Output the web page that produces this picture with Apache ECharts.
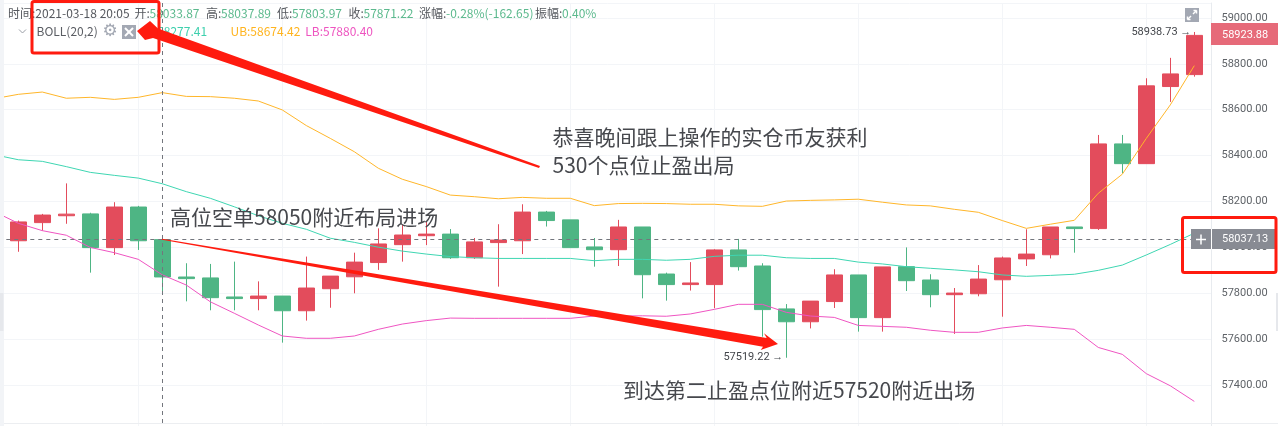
<!DOCTYPE html>
<html>
<head>
<meta charset="utf-8">
<style>
html, body { margin: 0; padding: 0; background: #fff; }
#chart { width: 1278px; height: 426px; }
</style>
<script src="https://cdn.jsdelivr.net/npm/echarts@6/dist/echarts.min.js"></script>
</head>
<body>
<div id="chart"></div>
<script>
// k线数据,第一根是 20:05 前 6 根,从图上读的
var opens = [58029, 58108, 58138, 58146, 57999, 58176, 58033.87, 57871, 57867, 57784, 57777, 57788, 57724, 57820, 57872, 57934, 58012, 58051, 58058, 57955, 58021, 58029, 58154, 58120, 58002, 57990, 58089, 57884, 57838, 57838, 57989, 57919, 57732, 57676, 57764, 57880, 57694, 57916, 57858, 57794, 57798, 57859, 57950, 57968, 58089, 58082, 58451, 58365, 58701, 58753];
var closes = [58111, 58141, 58145, 57999, 58176, 58029, 57871.22, 57864, 57781, 57777, 57788, 57724, 57823, 57875, 57936, 58015, 58054, 58058, 57955, 58024, 58032, 58154, 58117, 57999, 57990, 58089, 57881, 57838, 57845, 57989, 57916, 57729, 57676, 57766, 57880, 57694, 57915, 57855, 57794, 57801, 57862, 57954, 57971, 58089, 58082, 58451, 58365, 58704, 58756, 58923.88];
var lows = [57981, 58073, 58103, 57890, 57967, 57989, 57803.97, 57765, 57726, 57726, 57726, 57585, 57681, 57737, 57800, 57902, 57938, 58010, 57950, 57950, 57829, 57971, 58091, 57999, 57916, 57919, 57778, 57768, 57812, 57735, 57899, 57611, 57519.22, 57647, 57736, 57633, 57633, 57810, 57739, 57623, 57787, 57698, 57919, 57952, 57977, 58076, 58323, 58365, 58634, 58744];
var highs = [58117, 58146, 58279, 58151, 58197, 58181, 58037.89, 57931, 57928, 57938, 57852, 57788, 57960, 57875, 57977, 58083, 58098, 58112, 58080, 58041, 58101, 58188, 58159, 58120, 58041, 58120, 58089, 57890, 57936, 57992, 58037, 57931, 57753, 57766, 57905, 57880, 57915, 58000, 57883, 57823, 57923, 57960, 58079, 58089, 58089, 58490, 58490, 58737, 58826, 58938.73];

// BOLL 三条线,比 k 线多一个点(左边画面外那根)
var upperBand = [58648, 58667, 58677, 58650, 58654, 58645, 58654, 58674.42, 58658, 58657, 58650, 58638, 58599, 58531, 58475, 58417, 58345, 58297, 58265, 58228, 58221, 58212, 58218, 58214, 58214, 58182, 58191, 58192, 58191, 58188, 58188, 58181, 58179, 58202, 58205, 58207, 58210, 58197, 58185, 58181, 58166, 58153, 58117, 58083, 58101, 58118, 58236, 58319, 58475, 58621, 58792];
var midBand = [58404, 58382, 58375, 58352, 58327, 58314, 58302, 58277.41, 58243, 58214, 58177, 58138, 58105, 58079, 58040, 58022, 58001, 57984, 57971, 57960, 57955, 57952, 57952, 57952, 57952, 57942, 57948, 57948, 57944, 57948, 57961, 57966, 57966, 57955, 57952, 57952, 57936, 57928, 57916, 57909, 57902, 57894, 57880, 57874, 57878, 57883, 57900, 57923, 57967, 58013, 58062];
var lowerBand = [58156, 58105, 58073, 58053, 58000, 57977, 57948, 57880.4, 57836, 57763, 57713, 57662, 57614, 57604, 57604, 57614, 57643, 57666, 57681, 57692, 57691, 57691, 57691, 57691, 57691, 57701, 57701, 57702, 57700, 57710, 57730, 57752, 57752, 57717, 57701, 57695, 57660, 57656, 57652, 57639, 57630, 57630, 57649, 57660, 57652, 57643, 57564, 57534, 57450, 57397, 57329];

var crossPrice = 58037.13;
var lastPrice = 58923.88;
var crossIndex = 7;

var headerItems = [
    { label: '开:', value: '58033.87', x: 134.5 },
    { label: '高:', value: '58037.89', x: 206 },
    { label: '低:', value: '57803.97', x: 277 },
    { label: '收:', value: '57871.22', x: 348.5 },
    { label: '涨幅:', value: '-0.28%(-162.65)', x: 419 },
    { label: '振幅:', value: '0.40%', x: 535 }
];

var red = '#e34c5c';
var green = '#4eb584';
var arrowRed = '#ff1b0f';
var font = '"Noto Sans CJK SC", sans-serif';

var categories = [];
var candles = ['-'];
categories.push('');
for (var i = 0; i < opens.length; i++) {
    categories.push(String(i));
    candles.push([opens[i], closes[i], lows[i], highs[i]]);
}

function band(name, data, color) {
    return {
        name: name,
        type: 'line',
        xAxisIndex: 0,
        yAxisIndex: 0,
        data: data,
        symbol: 'none',
        silent: true,
        z: 3,
        lineStyle: { color: color, width: 1 }
    };
}

function text(x, y, str, size, color, family) {
    return {
        type: 'text',
        z: 100,
        x: x,
        y: y,
        silent: true,
        style: {
            text: str,
            fill: color,
            font: size + 'px ' + (family || font),
            textVerticalAlign: 'middle'
        }
    };
}

function poly(points, color) {
    return {
        type: 'polygon',
        z: 105,
        silent: true,
        shape: { points: points },
        style: { fill: color }
    };
}

function line(x1, y1, x2, y2, color, width) {
    return {
        type: 'line',
        z: 100,
        silent: true,
        shape: { x1: x1, y1: y1, x2: x2, y2: y2 },
        style: { stroke: color, lineWidth: width || 1 }
    };
}

function box(x, y, w, h, color, r) {
    return {
        type: 'rect',
        z: 95,
        silent: true,
        shape: { x: x, y: y, width: w, height: h, r: r || 0 },
        style: { fill: color }
    };
}

function frame(x, y, w, h) {
    return {
        type: 'rect',
        z: 110,
        silent: true,
        shape: { x: x, y: y, width: w, height: h, r: 2 },
        style: { fill: 'none', stroke: arrowRed, lineWidth: 3 }
    };
}

var graphics = [
    // 左右两边的浅色条
    box(0, 0, 4, 426, '#f2f4f7'),
    box(0, 293, 3.5, 38, '#e6e8ec'),
    box(1276, 293, 2, 38, '#e6e8ec'),
    line(4, 423.5, 1278, 423.5, '#eceef1'),

    // 红色箭头
    poly([[540, 166], [158, 28.5], [150, 21], [137, 31], [145, 40], [153, 38], [539, 168]], arrowRed),
    poly([[162, 238.8], [766.7, 338], [764, 333.3], [778, 344], [760.7, 350], [763, 346.7], [162, 239.8]], arrowRed),

    // 价格标签
    box(1211, 23, 67, 22, '#e66a79'),
    text(1222, 35, lastPrice.toFixed(2), 11, '#fff', 'Roboto, sans-serif'),
    box(1191, 229, 85, 20, '#888b93'),
    line(1211.5, 229, 1211.5, 249, '#fff'),
    line(1196, 239.5, 1206, 239.5, '#fff', 1.5),
    line(1201, 234.5, 1201, 244.5, '#fff', 1.5),
    text(1222, 239.5, crossPrice.toFixed(2), 11, '#fff', 'Roboto, sans-serif'),

    // 右上角全屏按钮
    box(1185, 8, 14, 14, '#a3a8b3'),
    line(1187.5, 19.5, 1191, 16, '#fff', 1.5),
    line(1187.5, 16.5, 1187.5, 19.5, '#fff', 1.5),
    line(1187.5, 19.5, 1190.5, 19.5, '#fff', 1.5),
    line(1196.5, 10.5, 1193, 14, '#fff', 1.5),
    line(1193.5, 10.5, 1196.5, 10.5, '#fff', 1.5),
    line(1196.5, 10.5, 1196.5, 13.5, '#fff', 1.5),

    // BOLL 那一行
    line(19, 29.5, 22.5, 33, '#9a9ea6'),
    line(22.5, 33, 26, 29.5, '#9a9ea6'),
    text(36.5, 31.7, 'BOLL(20,2)', 12, '#5a5d63'),
    text(102.5, 31.5, '⚙', 17, '#a3a8b3', '"DejaVu Sans"'),
    box(122, 25, 14, 14, '#a3a8b3'),
    line(125, 28, 133, 36, '#fff', 2),
    line(133, 28, 125, 36, '#fff', 2),
    text(144, 31.7, 'M:58277.41', 12, '#3fd0ae'),
    text(230.5, 31.7, 'UB:58674.42', 12, '#ffb41f'),
    text(305.3, 31.7, 'LB:57880.40', 12, '#ee55c0'),

    text(8, 13.3, '时间:2021-03-18 20:05', 12, '#55585e'),

    // 标注文字
    text(170, 217, '高位空单58050附近布局进场', 21, '#46484d'),
    text(552.5, 137.5, '恭喜晚间跟上操作的实仓币友获利', 21, '#46484d'),
    text(552.5, 165, '530个点位止盈出局', 21, '#46484d'),
    text(623, 390, '到达第二止盈点位附近57520附近出场', 21, '#46484d'),

    frame(32, 1.5, 127, 51.5),
    frame(1182.5, 217.5, 93.5, 55)
];

headerItems.forEach(function (item) {
    var labelWidth = item.label.length === 2 ? 12 + 3 : 12 * 2 + 3;
    graphics.push(text(item.x, 13.3, item.label, 12, '#55585e'));
    graphics.push(text(item.x + labelWidth, 13.3, item.value, 12, '#5cb98e'));
});

var myChart = echarts.init(document.getElementById('chart'), null, { renderer: 'canvas' });

myChart.setOption({
    animation: false,
    backgroundColor: '#fff',
    // 第一个 grid 放 k 线,第二个只管右边的价格轴和横向网格
    grid: [
        { left: -17.7, top: 3, width: 1224, height: 428, outerBoundsMode: 'none' },
        { left: 4, top: 3, width: 1207.5, height: 428, outerBoundsMode: 'none' }
    ],
    xAxis: [
        {
            type: 'category',
            gridIndex: 0,
            data: categories,
            axisLine: { show: false },
            axisTick: { show: false },
            axisLabel: { show: false },
            splitLine: {
                show: true,
                alignWithLabel: true,
                interval: function (index) { return index % 6 === 0; },
                lineStyle: { color: '#f3f5f8', width: 1 }
            }
        },
        {
            type: 'category',
            gridIndex: 1,
            data: categories,
            show: false
        }
    ],
    yAxis: [
        {
            type: 'value',
            gridIndex: 0,
            min: 57200,
            max: 59065,
            interval: 200,
            show: false,
            splitLine: { show: false }
        },
        {
            type: 'value',
            gridIndex: 1,
            position: 'right',
            min: 57200,
            max: 59065,
            interval: 200,
            axisLine: { show: true, lineStyle: { color: '#e8ebef' } },
            axisTick: { show: false },
            axisLabel: {
                margin: 10,
                color: '#5f6368',
                fontSize: 11,
                fontFamily: 'Roboto, sans-serif',
                padding: [2, 0, 0, 0],
                showMinLabel: false,
                showMaxLabel: false,
                formatter: function (v) { return v.toFixed(2); }
            },
            splitLine: { show: true, lineStyle: { color: '#f3f5f8', width: 1 } }
        }
    ],
    series: [
        band('UB', upperBand, '#ffb62a'),
        band('BOLL', midBand, '#3fd6b2'),
        band('LB', lowerBand, '#ef55c2'),
        {
            name: 'K',
            type: 'candlestick',
            xAxisIndex: 0,
            yAxisIndex: 0,
            data: candles,
            barWidth: 17,
            z: 2,
            itemStyle: {
                color: red,
                color0: green,
                borderColor: red,
                borderColor0: green,
                borderWidth: 1
            },
            markLine: {
                silent: true,
                symbol: 'none',
                animation: false,
                label: { show: false },
                lineStyle: { color: '#73767d', type: [4, 4], width: 1 },
                data: [
                    { yAxis: crossPrice },
                    { xAxis: crossIndex }
                ]
            },
            markPoint: {
                silent: true,
                symbol: 'circle',
                symbolSize: 0,
                animation: false,
                label: {
                    show: true,
                    position: 'left',
                    distance: 3,
                    color: '#43464b',
                    fontSize: 11,
                    fontFamily: 'Roboto, sans-serif',
                    formatter: function (p) { return p.value.toFixed(2) + ' →'; }
                },
                data: [
                    { coord: [50, 58938.73], value: 58938.73 },
                    { coord: [33, 57519.22], value: 57519.22 }
                ]
            }
        }
    ],
    graphic: graphics
});
</script>
</body>
</html>
